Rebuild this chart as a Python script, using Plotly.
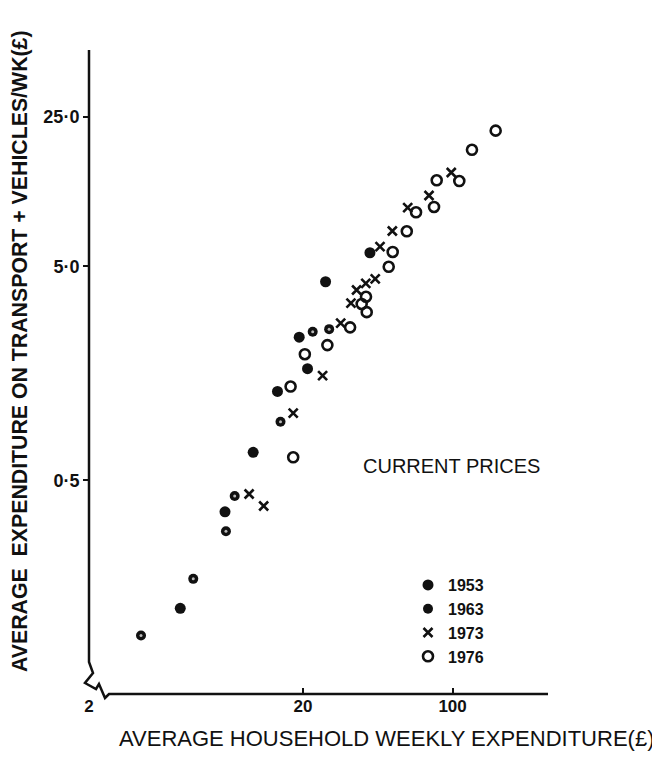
import plotly.graph_objects as go

# values (log-log, £ per week)
x_1953 = [5.34, 8.64, 11.7, 15.2, 19.2, 21.0, 25.5, 41.1]
y_1953 = [0.126, 0.356, 0.675, 1.30, 2.33, 1.66, 4.23, 5.78]

x_1963 = [3.50, 6.14, 8.73, 9.59, 15.7, 22.2, 26.5]
y_1963 = [0.094, 0.173, 0.289, 0.422, 0.938, 2.47, 2.54]

x_1973 = [11.2, 13.1, 18.0, 24.7, 30.0, 33.5, 35.6, 39.3, 43.5, 45.8, 52.3, 61.7, 77.6, 98.6]
y_1973 = [0.431, 0.379, 1.03, 1.54, 2.71, 3.36, 3.87, 4.16, 4.36, 6.17, 7.30, 9.39, 10.7, 13.7]

x_1976 = [18.0, 17.5, 20.4, 26.0, 33.2, 39.7, 37.6, 39.4, 50.3, 52.5, 61.1, 67.5, 81.9, 84.3,
          107.5, 123.2, 159.0]
y_1976 = [0.640, 1.37, 1.94, 2.14, 2.59, 3.05, 3.33, 3.60, 4.97, 5.83, 7.28, 8.93, 9.46, 12.6,
          12.5, 17.5, 21.5]

x_ticks = [2, 20, 100]
x_ticktext = ["2", "20", "100"]
y_ticks = [0.5, 5, 25]
y_ticktext = ["0·5", "5·0", "25·0"]

FONT = "Liberation Sans, Arial, sans-serif"
INK = "#111"

W, H = 660, 757
OFF = 8  # page body margin
L, R, T, B = 81, 123, 42, 71
PW, PH = W - L - R, H - T - B


def px2paper(px, py):
    # page pixel -> paper fraction
    return (px - OFF - L) / PW, (H - B - (py - OFF)) / PH


fig = go.Figure()
fig.add_trace(go.Scatter(x=x_1953, y=y_1953, mode="markers", name="1953",
                         marker=dict(symbol="circle", size=11, color=INK)))
fig.add_trace(go.Scatter(x=x_1963, y=y_1963, mode="markers", name="1963",
                         marker=dict(symbol="circle", size=10, color=INK)))
# small light centre of the 1963 dots
fig.add_trace(go.Scatter(x=x_1963, y=y_1963, mode="markers", showlegend=False,
                         hoverinfo="skip",
                         marker=dict(symbol="circle", size=3, color="#bbb")))
fig.add_trace(go.Scatter(x=x_1973, y=y_1973, mode="markers", name="1973",
                         marker=dict(symbol="x-thin", size=9, color=INK,
                                     line=dict(color=INK, width=2.6))))
fig.add_trace(go.Scatter(x=x_1976, y=y_1976, mode="markers", name="1976",
                         marker=dict(symbol="circle-open", size=10, color=INK,
                                     line=dict(color=INK, width=2.6))))

# hand drawn axes with the break at the origin
pts = [(89, 50), (89, 662), (93, 673), (85, 683), (96, 689), (99, 684), (105, 698),
       (109, 694), (548, 694)]
path = "M " + " L ".join("%.4f %.4f" % px2paper(*p) for p in pts)
fig.add_shape(type="path", path=path, xref="paper", yref="paper",
              line=dict(color=INK, width=2.5))

fig.add_annotation(text="AVERAGE\u00a0 EXPENDITURE ON TRANSPORT + VEHICLES/WK(£)",
                   xref="paper", yref="paper", x=px2paper(20, 0)[0], y=px2paper(0, 351)[1],
                   textangle=-90, showarrow=False, xanchor="center", yanchor="middle",
                   font=dict(family=FONT, size=21.3, color=INK, weight="bold"))
fig.add_annotation(text="AVERAGE HOUSEHOLD WEEKLY EXPENDITURE(£)",
                   xref="paper", yref="paper", x=px2paper(386, 0)[0], y=px2paper(0, 738)[1],
                   showarrow=False, xanchor="center", yanchor="middle",
                   font=dict(family=FONT, size=22, color=INK))
fig.add_annotation(text="CURRENT PRICES",
                   xref="paper", yref="paper", x=px2paper(451, 0)[0], y=px2paper(0, 466)[1],
                   showarrow=False, xanchor="center", yanchor="middle",
                   font=dict(family=FONT, size=20, color=INK))

lx, ly = px2paper(408, 568)
fig.update_layout(
    width=W, height=H,
    margin=dict(l=L, r=R, t=T, b=B, pad=0),
    paper_bgcolor="white", plot_bgcolor="white",
    font=dict(family=FONT, color=INK),
    showlegend=True,
    legend=dict(x=lx, y=ly, xanchor="left", yanchor="top", bgcolor="rgba(0,0,0,0)",
                font=dict(family=FONT, size=16, color=INK, weight="bold"),
                itemwidth=30, tracegroupgap=0),
    xaxis=dict(type="log", range=[0.30103, 2.4319], showgrid=False, zeroline=False,
               showline=False, tickvals=x_ticks, ticktext=x_ticktext, ticks="inside",
               ticklen=6, tickwidth=2, tickcolor=INK,
               tickfont=dict(family=FONT, size=17, color=INK, weight="bold")),
    yaxis=dict(type="log", range=[-1.3000, 1.7093], showgrid=False, zeroline=False,
               showline=False, tickvals=y_ticks, ticktext=y_ticktext, ticks="outside",
               ticklen=5, tickwidth=2, tickcolor=INK,
               tickfont=dict(family=FONT, size=18, color=INK, weight="bold")),
)

fig.write_html("out.html")
